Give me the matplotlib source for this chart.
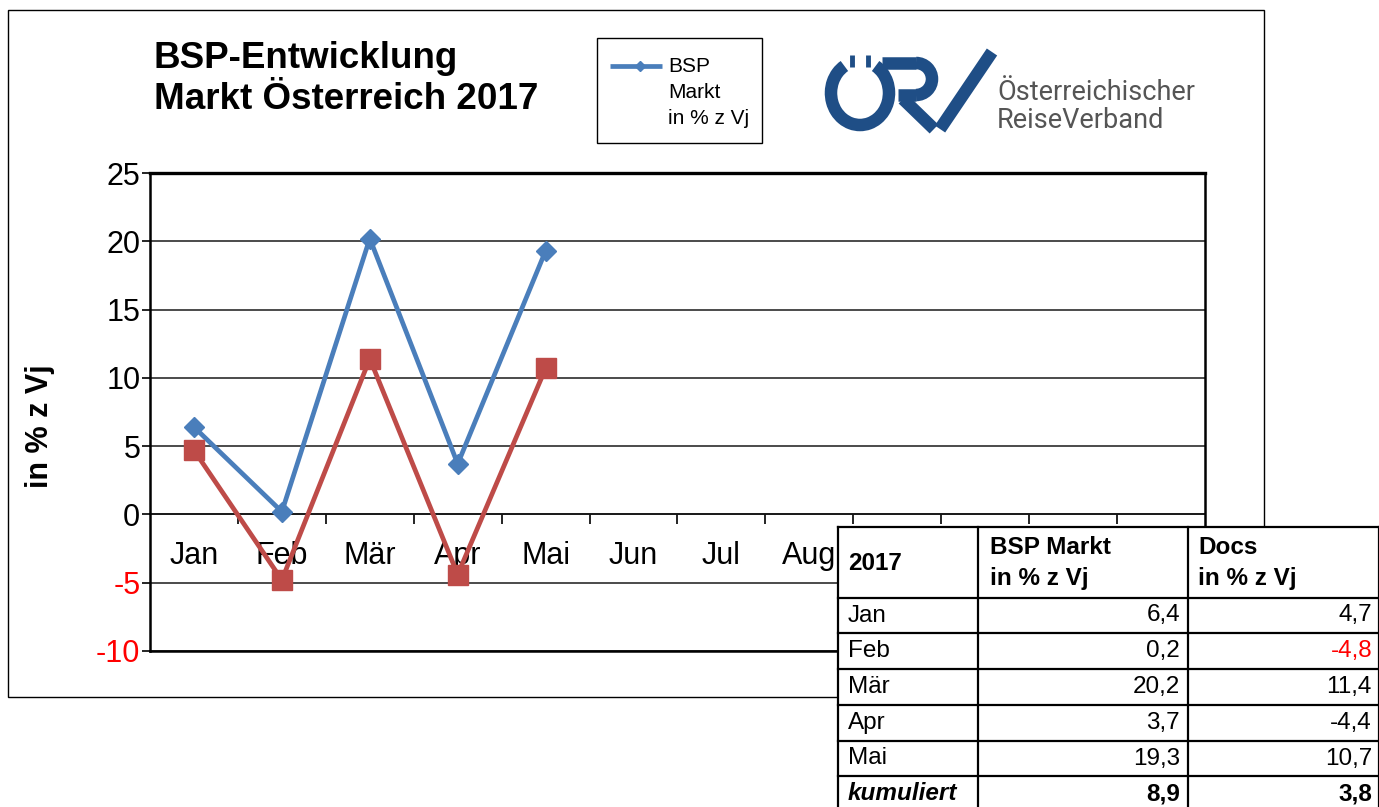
import matplotlib.pyplot as plt
from matplotlib.patches import Rectangle, Arc
import numpy as np

months = ['Jan', 'Feb', 'Mär', 'Apr', 'Mai', 'Jun', 'Jul', 'Aug', 'Sep', 'Okt', 'Nov', 'Dez']
bsp = [6.4, 0.2, 20.2, 3.7, 19.3]
docs = [4.7, -4.8, 11.4, -4.4, 10.7]
kum_bsp = 8.9
kum_docs = 3.8
yticks = [-10, -5, 0, 5, 10, 15, 20, 25]
red_cells = [('Feb', 'docs')]

plt.rcParams['font.family'] = ['Liberation Sans', 'DejaVu Sans']

W, H = 1379, 807
fig = plt.figure(figsize=(W / 100, H / 100), dpi=100)


def px(l, t, r, b):
    return [l / W, 1 - b / H, (r - l) / W, (b - t) / H]


blue = '#4a7ebb'
red = '#be4b48'

ax = fig.add_axes(px(150, 173, 1205, 651))
x = np.arange(len(bsp))
ax.plot(x, bsp, color=blue, lw=3.4, marker='D', ms=10.5, zorder=3)
ax.plot(x, docs, color=red, lw=3.4, marker='s', ms=14, zorder=3)
ax.set_xlim(-0.5, len(months) - 0.5)
ymin, ymax = -10, 25
ax.set_ylim(ymin, ymax)
ax.set_yticks(yticks)
ax.set_yticklabels([str(v) for v in yticks], fontsize=22)
for lab, v in zip(ax.get_yticklabels(), yticks):
    if v < 0:
        lab.set_color('red')
ax.tick_params(axis='y', length=6, width=1.2, pad=1)
ax.set_xticks([])
ax.grid(axis='y', color='#1a1a1a', lw=1.1)
ax.set_axisbelow(True)
for s in ax.spines.values():
    s.set_linewidth(1.8)
ax.spines['top'].set_linewidth(2.4)
ax.set_ylabel('in % z Vj', fontsize=22, fontweight='bold')
ax.yaxis.set_label_coords(-0.09, 0.47)

# category axis sits on the zero line
zero = (0 - ymin) / (ymax - ymin)
sec = ax.secondary_xaxis(zero)
sec.set_xticks(range(len(months)), months)
sec.set_xticks(np.arange(0.5, len(months) - 0.5), minor=True)
sec.tick_params(which='major', length=0, labelsize=22, pad=19)
sec.tick_params(which='minor', length=7, width=1.2, direction='out')
sec.spines['bottom'].set_linewidth(1.2)

# overlay in pixel coordinates for frame, title, legend, logo and table
ov = fig.add_axes([0, 0, 1, 1], zorder=5)
ov.set_xlim(0, W)
ov.set_ylim(H, 0)
ov.axis('off')

ov.add_patch(Rectangle((8, 10), 1256, 687, fill=False, lw=1.0, ec='black'))

ov.text(154, 41, 'BSP-Entwicklung', fontsize=26.5, fontweight='bold', va='top')
ov.text(154, 82, 'Markt Österreich 2017', fontsize=26.5, fontweight='bold', va='top')

# legend
ov.add_patch(Rectangle((597, 38), 165, 105, fill=False, lw=1.0, ec='black'))
ov.plot([610, 662], [66, 66], color=blue, lw=3.4, solid_capstyle='butt')
ov.plot([640], [66], color=blue, marker='D', ms=5)
for i, t in enumerate(['BSP', 'Markt', 'in % z Vj']):
    ov.text(668, 66 + i * 26.5, t, fontsize=15, va='center')

# logo
navy = '#1f4e86'
ov.add_patch(Arc((860, 93), 58, 64, theta1=-60, theta2=240, lw=9.0, color=navy))
ov.plot([852, 852], [55, 67], color=navy, lw=3.5, solid_capstyle='butt')
ov.plot([868, 868], [55, 67], color=navy, lw=3.5, solid_capstyle='butt')
ov.plot([882, 916], [63, 63], color=navy, lw=9.0, solid_capstyle='butt')
ov.plot([898, 916], [95, 95], color=navy, lw=9.0, solid_capstyle='butt')
ov.add_patch(Arc((916, 79), 32, 32, theta1=-90, theta2=90, lw=9.0, color=navy))
ov.plot([903, 934], [99, 129], color=navy, lw=9.0, solid_capstyle='butt')
ov.plot([940, 992], [129, 52], color=navy, lw=9.0, solid_capstyle='butt')
ov.text(997, 93, 'Österreichischer', fontsize=19.5, family='Roboto',
        color='#555555', va='center')
ov.text(997, 120, 'ReiseVerband', fontsize=19.5, family='Roboto',
        color='#555555', va='center')

# table
xs = [838, 978, 1188, 1379]
ys = [527, 598, 633, 669, 705, 741, 776, 812]
ov.add_patch(Rectangle((xs[0], ys[0]), xs[-1] - xs[0], ys[-1] - ys[0],
                       fc='white', ec='none'))
for yy in ys:
    ov.plot([xs[0], xs[-1]], [yy, yy], color='black', lw=1.6)
for xx in xs:
    ov.plot([xx, xx], [ys[0], ys[-1]], color='black', lw=1.6)

fs = 17.5
ov.text(848, 564, '2017', fontsize=fs, fontweight='bold', va='center')
ov.text(990, 548, 'BSP Markt', fontsize=fs, fontweight='bold', va='center')
ov.text(990, 578, 'in % z Vj', fontsize=fs, fontweight='bold', va='center')
ov.text(1198, 548, 'Docs', fontsize=fs, fontweight='bold', va='center')
ov.text(1198, 578, 'in % z Vj', fontsize=fs, fontweight='bold', va='center')


def fmt(v):
    return f'{v:.1f}'.replace('.', ',')


for i, m in enumerate(months[:len(bsp)]):
    yc = (ys[i + 1] + ys[i + 2]) / 2
    ov.text(848, yc, m, fontsize=fs, va='center')
    ov.text(1180, yc, fmt(bsp[i]), fontsize=fs, va='center', ha='right',
            color='red' if (m, 'bsp') in red_cells else 'black')
    ov.text(1372, yc, fmt(docs[i]), fontsize=fs, va='center', ha='right',
            color='red' if (m, 'docs') in red_cells else 'black')

yc = (ys[-2] + ys[-1]) / 2
ov.text(848, yc, 'kumuliert', fontsize=fs, va='center', fontweight='bold', style='italic')
ov.text(1180, yc, fmt(kum_bsp), fontsize=fs, va='center', ha='right', fontweight='bold')
ov.text(1372, yc, fmt(kum_docs), fontsize=fs, va='center', ha='right', fontweight='bold')

fig.savefig('out.png', dpi=100)
